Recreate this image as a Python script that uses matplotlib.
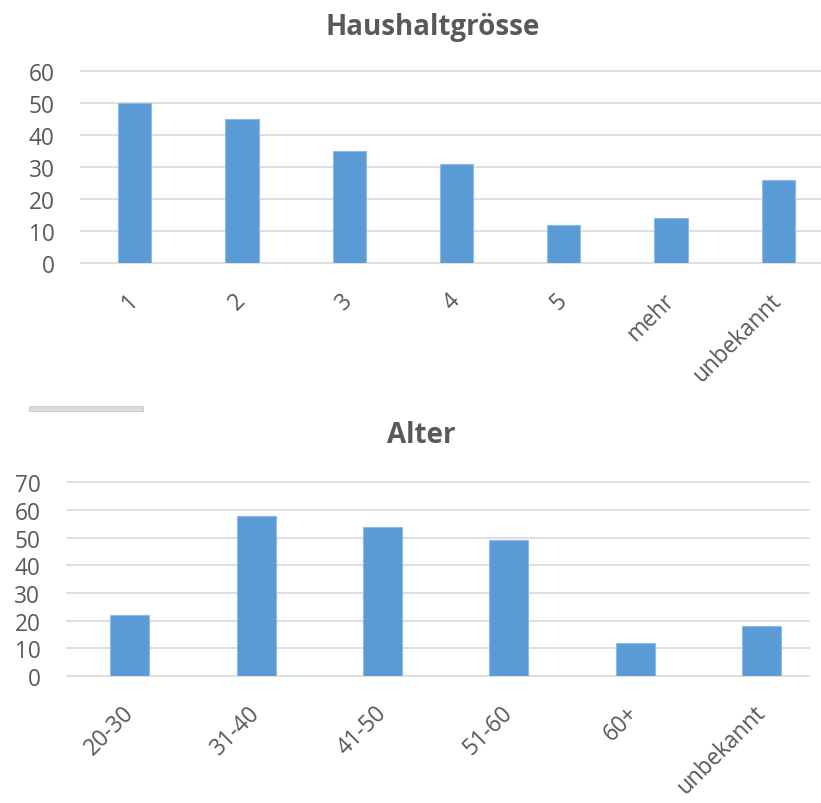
#!/usr/bin/env python3
"""Bar charts of household size and age distribution."""

import matplotlib

matplotlib.use("Agg")
import matplotlib.pyplot as plt
from matplotlib.patches import Rectangle
import numpy as np

HH_LABELS = ["1", "2", "3", "4", "5", "mehr", "unbekannt"]
HH_COUNTS = [50, 45, 35, 31, 12, 14, 26]

AGE_LABELS = ["20-30", "31-40", "41-50", "51-60", "60+", "unbekannt"]
AGE_COUNTS = [22, 58, 54, 49, 12, 18]

BAR_COLOR = "#5b9bd5"
EDGE_COLOR = "#8dbbe6"
GRID_COLOR = "#d9d9d9"
TEXT_COLOR = "#595959"

W, H = 821, 804

plt.rcParams["font.family"] = ["Open Sans", "DejaVu Sans"]


def px_axes(fig, left, right, top, bottom):
    return fig.add_axes([left / W, 1 - bottom / H, (right - left) / W, (bottom - top) / H])


def style_axes(ax, labels, ymax, xmax):
    x = np.arange(len(labels))
    ax.set_xlim(-0.5, xmax)
    ax.set_ylim(0, ymax)
    ax.set_yticks(np.arange(0, ymax + 1, 10))
    ax.set_xticks(x)
    ax.set_xticklabels(labels, rotation=45, ha="right", va="center", rotation_mode="anchor")
    ax.tick_params(axis="both", length=0, labelsize=16.3, labelcolor=TEXT_COLOR)
    ax.tick_params(axis="x", pad=24)
    ax.tick_params(axis="y", pad=19)
    for spine in ax.spines.values():
        spine.set_visible(False)
    for val in np.arange(0, ymax + 1, 10):
        ax.axhline(val, color=GRID_COLOR, linewidth=1.2, zorder=0, clip_on=False)


fig = plt.figure(figsize=(W / 100, H / 100), dpi=100)

# household size
ax1 = px_axes(fig, 81, 831.8, 71.7, 264.3)
ax1.bar(np.arange(len(HH_LABELS)), HH_COUNTS, width=0.31, color=BAR_COLOR,
        edgecolor=EDGE_COLOR, linewidth=0.8, zorder=2)
style_axes(ax1, HH_LABELS, 60, 6.5)
fig.text(433 / W, 1 - 28 / H, "Haushaltgrösse", ha="center", va="center",
         fontsize=20, fontweight="bold", color=TEXT_COLOR)

# age groups
ax2 = px_axes(fig, 66.7, 809, 483.3, 677)
ax2.bar(np.arange(len(AGE_LABELS)), AGE_COUNTS, width=0.31, color=BAR_COLOR,
        edgecolor=EDGE_COLOR, linewidth=0.8, zorder=2)
style_axes(ax2, AGE_LABELS, 70, 5.376)
fig.text(421 / W, 1 - 436 / H, "Alter", ha="center", va="center",
         fontsize=20, fontweight="bold", color=TEXT_COLOR)

# thin grey separator between the two charts
fig.patches.append(Rectangle((29 / W, 1 - 411.5 / H), 114 / W, 4.5 / H,
                             transform=fig.transFigure, facecolor="#dcdcdc",
                             edgecolor="#c8c8c8", linewidth=0.6))

fig.savefig("out.png", dpi=100)
